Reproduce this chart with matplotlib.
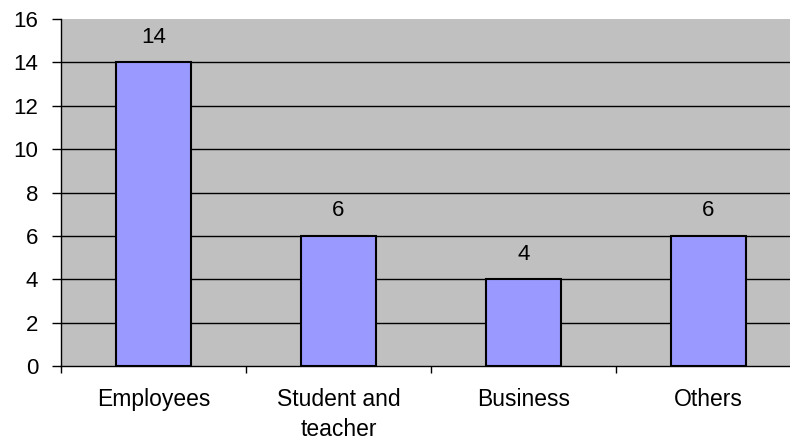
import matplotlib
matplotlib.use("Agg")
import matplotlib.pyplot as plt
import numpy as np

categories = ["Employees", "Student and\nteacher", "Business", "Others"]
values = [14, 6, 4, 6]
yticks = [0, 2, 4, 6, 8, 10, 12, 14, 16]

plt.rcParams["font.family"] = ["Liberation Sans", "DejaVu Sans"]

W, H = 790, 442
fig = plt.figure(figsize=(W / 100, H / 100), dpi=100)
ax = fig.add_axes([61 / W, (H - 366) / H, 740 / W, 347 / H])
ax.set_facecolor("#C0C0C0")

x = np.arange(len(categories))
ax.set_xlim(-0.5, len(categories) - 0.5)
ax.set_ylim(0, 16)

for y in yticks[1:-1]:
    ax.axhline(y, color="black", lw=1.0, zorder=1)

bars = ax.bar(x, values, width=0.405, color="#9999FF", edgecolor="black",
              linewidth=1.5, zorder=2)
for xi, v in zip(x, values):
    ax.annotate(str(v), (xi, v), xytext=(0, 18), textcoords="offset points",
                ha="center", va="center", fontsize=16)

ax.set_yticks(yticks)
ax.set_yticklabels([str(t) for t in yticks], fontsize=16)
ax.tick_params(axis="y", direction="out", length=6.5, width=1, pad=10)

ax.set_xticks(np.arange(-0.5, len(categories), 1.0))
ax.set_xticklabels([])
ax.set_xticks(x, minor=True)
ax.set_xticklabels(categories, minor=True, fontsize=16.5, linespacing=1.35)
ax.tick_params(axis="x", which="major", direction="out", length=5, width=1)
ax.tick_params(axis="x", which="minor", length=0, pad=16)

for s in ["top", "right"]:
    ax.spines[s].set_visible(False)
for s in ["left", "bottom"]:
    ax.spines[s].set_color("black")
    ax.spines[s].set_linewidth(1.0)

fig.savefig("out.png", dpi=100)
